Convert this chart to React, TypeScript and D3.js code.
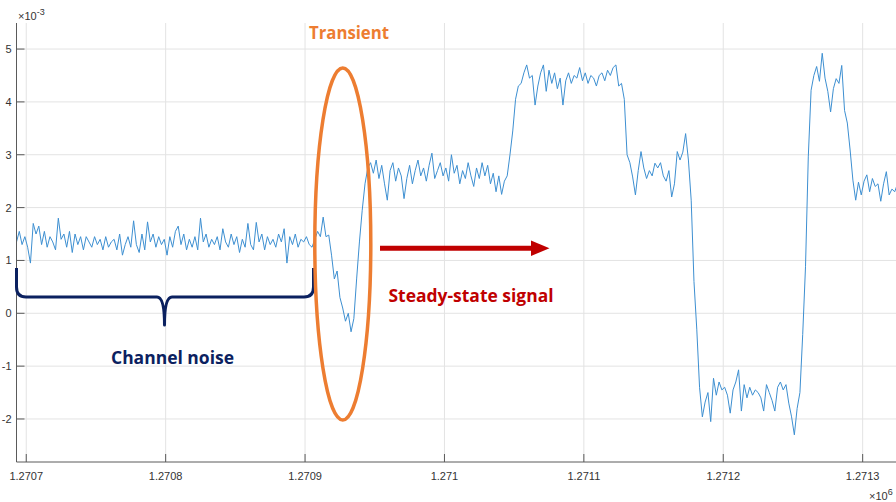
import React from "react";
import * as d3 from "d3";

// Sampled received signal (×10^-3), one value per sample.
const t0 = 1270693;
const sampleStep = 2;

const noiseSegment = [
  1.35, 1.55, 1.30, 1.45, 1.25, 0.95, 1.70, 1.50, 1.65, 1.30,
  1.55, 1.25, 1.45, 1.35, 1.20, 1.80, 1.40, 1.50, 1.25, 1.55,
  1.15, 1.50, 1.30, 1.45, 1.20, 1.45, 1.35, 1.25, 1.45, 1.30,
  1.40, 1.20, 1.45, 1.25, 1.35, 1.40, 1.20, 1.50, 1.10, 1.30,
  1.45, 1.25, 1.75, 1.30, 1.15, 1.50, 1.20, 1.73, 1.35, 1.50,
  1.25, 1.45, 1.30, 1.40, 1.10, 1.45, 1.25, 1.55, 1.65, 1.30,
  1.50, 1.20, 1.40, 1.25, 1.45, 1.20, 1.80, 1.35, 1.50, 1.25,
  1.40, 1.30, 1.45, 1.20, 1.60, 1.35, 1.25, 1.50, 1.30, 1.45,
  1.15, 1.40, 1.25, 1.70, 1.30, 1.20, 1.72, 1.35, 1.50, 1.20,
  1.45, 1.30, 1.40, 1.25, 1.50, 1.35, 1.60, 0.95, 1.45, 1.30,
  1.50, 1.25, 1.40, 1.35, 1.45, 1.30,
];

const transientSegment = [
  1.25, 1.40, 1.55, 1.45, 1.82, 1.45, 1.48, 1.10, 0.65, 0.80,
  0.30, 0.10, -0.15, 0.00, -0.35, -0.10, 0.65, 1.35, 1.95, 2.45,
  2.75, 2.85,
];

const steadySegment = [
  // level ~2.7
  2.65, 2.90, 2.55, 2.80, 2.45, 2.14, 2.70, 2.85, 2.50, 2.75,
  2.60, 2.17, 2.55, 2.80, 2.45, 2.70, 2.90, 2.60, 2.75, 2.50,
  2.80, 3.03, 2.55, 2.70, 2.85, 2.60, 2.75, 2.50, 3.00, 2.65,
  2.80, 2.45, 2.70, 2.55, 2.85, 2.60, 2.40, 2.75, 2.55, 2.85,
  2.60, 2.80, 2.45, 2.65, 2.30, 2.60, 2.25,
  // rise to ~4.45
  2.50, 2.60, 3.00, 3.45, 4.05, 4.30, 4.35, 4.55, 4.70,
  4.45, 4.50, 3.94, 4.30, 4.55, 4.70, 4.20, 4.60, 4.35, 4.55,
  4.25, 4.45, 3.94, 4.40, 4.55, 4.35, 4.50, 4.45, 4.65, 4.40,
  4.55, 4.35, 4.50, 4.45, 4.30, 4.50, 4.55, 4.40, 4.60, 4.50,
  4.65, 4.70, 4.30, 4.35,
  // fall to ~2.6
  4.05, 3.00, 2.85, 2.58, 2.24,
  2.70, 3.06, 2.75, 2.55, 2.70, 2.60, 2.84, 2.75, 2.85, 2.60,
  2.50, 2.70, 2.20, 2.45, 3.06, 2.90, 3.05, 3.40, 2.90,
  // drop to ~-1.55
  2.14, 0.60, -0.30, -1.40,
  -1.96, -1.68, -1.50, -2.05, -1.23, -1.55, -1.30, -1.45, -1.40, -1.55,
  -1.89, -1.45, -1.30, -1.07, -1.85, -1.35, -1.60, -1.40, -1.55, -1.45,
  -1.50, -1.60, -1.85, -1.35, -1.50, -1.65, -1.85, -1.40, -1.30, -1.45,
  -1.35, -1.70, -1.96, -2.30, -1.80, -1.50,
  // rise to ~4.5, then back to ~2.4
  -0.40, 0.88, 2.96, 4.22,
  4.50, 4.67, 4.39, 4.92, 4.45, 4.20, 3.81, 4.25, 4.44, 4.35,
  4.69, 3.84, 3.60, 3.09, 2.52, 2.14, 2.48, 2.24, 2.50, 2.62,
  2.30, 2.55, 2.40, 2.45, 2.12, 2.45, 2.68, 2.24, 2.35, 2.30,
  2.45, 2.40, 2.30,
];

const signal = [...noiseSegment, ...transientSegment, ...steadySegment];

const xTicks = [1270700, 1270800, 1270900, 1271000, 1271100, 1271200, 1271300];
const xTickLabels = ["1.2707", "1.2708", "1.2709", "1.271", "1.2711", "1.2712", "1.2713"];
const yTicks = [-2, -1, 0, 1, 2, 3, 4, 5];
const yTickLabels = ["-2", "-1", "0", "1", "2", "3", "4", "5"];

const W = 896;
const H = 502;
const left = 16.5;
const top = 23;
const bottom = 462;

const x = d3.scaleLinear().domain([1270693, 1271350]).range([left, left + 657 * 1.394]);
const y = d3.scaleLinear().domain([-2.814, 5.493]).range([bottom, top]);

const line = d3
  .line<number>()
  .x((_, i) => x(t0 + i * sampleStep))
  .y((d) => y(d));

const axisColor = "#5a5a5a";
const gridColor = "#e3e3e3";
const labelColor = "#333333";
const tickFont = "'Liberation Sans', Arial, Helvetica, sans-serif";
const annoFont = "'Open Sans', 'Noto Sans', sans-serif";

export default function App() {
  const plotRight = x.range()[1];
  return (
    <svg
      width={W}
      height={H}
      style={{ position: "absolute", left: 0, top: 0, background: "#fff" }}
    >
      <defs>
        <clipPath id="plotArea">
          <rect x={left} y={top} width={plotRight - left} height={bottom - top} />
        </clipPath>
      </defs>

      {/* grid */}
      {yTicks.map((v) => (
        <line key={"gy" + v} x1={left} x2={W} y1={y(v)} y2={y(v)} stroke={gridColor} strokeWidth={1} />
      ))}
      {xTicks.map((v) => (
        <line key={"gx" + v} x1={x(v)} x2={x(v)} y1={top} y2={bottom} stroke={gridColor} strokeWidth={1} />
      ))}

      {/* signal */}
      <path
        d={line(signal) ?? ""}
        fill="none"
        stroke="#3d8fd1"
        strokeWidth={1}
        strokeLinejoin="round"
        clipPath="url(#plotArea)"
      />

      {/* axes */}
      <line x1={left} x2={left} y1={top} y2={bottom} stroke={axisColor} strokeWidth={1} />
      <line x1={left} x2={W} y1={bottom} y2={bottom} stroke={axisColor} strokeWidth={1} />
      {yTicks.map((v, i) => (
        <g key={"ty" + v}>
          <line x1={left} x2={left + 8} y1={y(v)} y2={y(v)} stroke={axisColor} strokeWidth={1} />
          <text
            x={left - 5}
            y={y(v)}
            dy="0.36em"
            textAnchor="end"
            fontFamily={tickFont}
            fontSize={11}
            fill={labelColor}
          >
            {yTickLabels[i]}
          </text>
        </g>
      ))}
      {xTicks.map((v, i) => (
        <g key={"tx" + v}>
          <line x1={x(v)} x2={x(v)} y1={bottom} y2={bottom - 8} stroke={axisColor} strokeWidth={1} />
          <text
            x={x(v)}
            y={bottom + 18}
            textAnchor="middle"
            fontFamily={tickFont}
            fontSize={11}
            fill={labelColor}
          >
            {xTickLabels[i]}
          </text>
        </g>
      ))}

      {/* exponent labels */}
      <text x={18} y={20} fontFamily={tickFont} fontSize={11} fill={labelColor}>
        ×10
        <tspan dy={-5} fontSize={9}>-3</tspan>
      </text>
      <text x={869} y={500} fontFamily={tickFont} fontSize={11} fill={labelColor}>
        ×10
        <tspan dy={-5} fontSize={9}>6</tspan>
      </text>

      {/* channel noise brace */}
      <path
        d="M16.5,268 L16.5,287 Q16.5,297 26,297 L157,297 Q164.5,297 164.5,325 Q164.5,297 172,297 L304,297 Q313.5,297 313.5,287 L313.5,268"
        fill="none"
        stroke="#0b2160"
        strokeWidth={3}
        strokeLinejoin="round"
      />
      <text
        x={111}
        y={364}
        fontFamily={annoFont}
        fontWeight={700}
        fontSize={17}
        fill="#0b2160"
        textLength={123}
        lengthAdjust="spacingAndGlyphs"
      >
        Channel noise
      </text>

      {/* transient ellipse */}
      <ellipse cx={342.8} cy={244} rx={28} ry={176} fill="none" stroke="#ED7D31" strokeWidth={3.5} />
      <text
        x={309}
        y={39}
        fontFamily={annoFont}
        fontWeight={700}
        fontSize={18}
        fill="#ED7D31"
        textLength={80}
        lengthAdjust="spacingAndGlyphs"
      >
        Transient
      </text>

      {/* steady-state arrow */}
      <line x1={380} x2={534} y1={248.3} y2={248.3} stroke="#C00000" strokeWidth={5} />
      <path d="M531,240.5 L549.5,248.3 L531,256 Z" fill="#C00000" />
      <text
        x={388.5}
        y={302}
        fontFamily={annoFont}
        fontWeight={700}
        fontSize={17}
        fill="#C00000"
        textLength={165}
        lengthAdjust="spacingAndGlyphs"
      >
        Steady-state signal
      </text>
    </svg>
  );
}
